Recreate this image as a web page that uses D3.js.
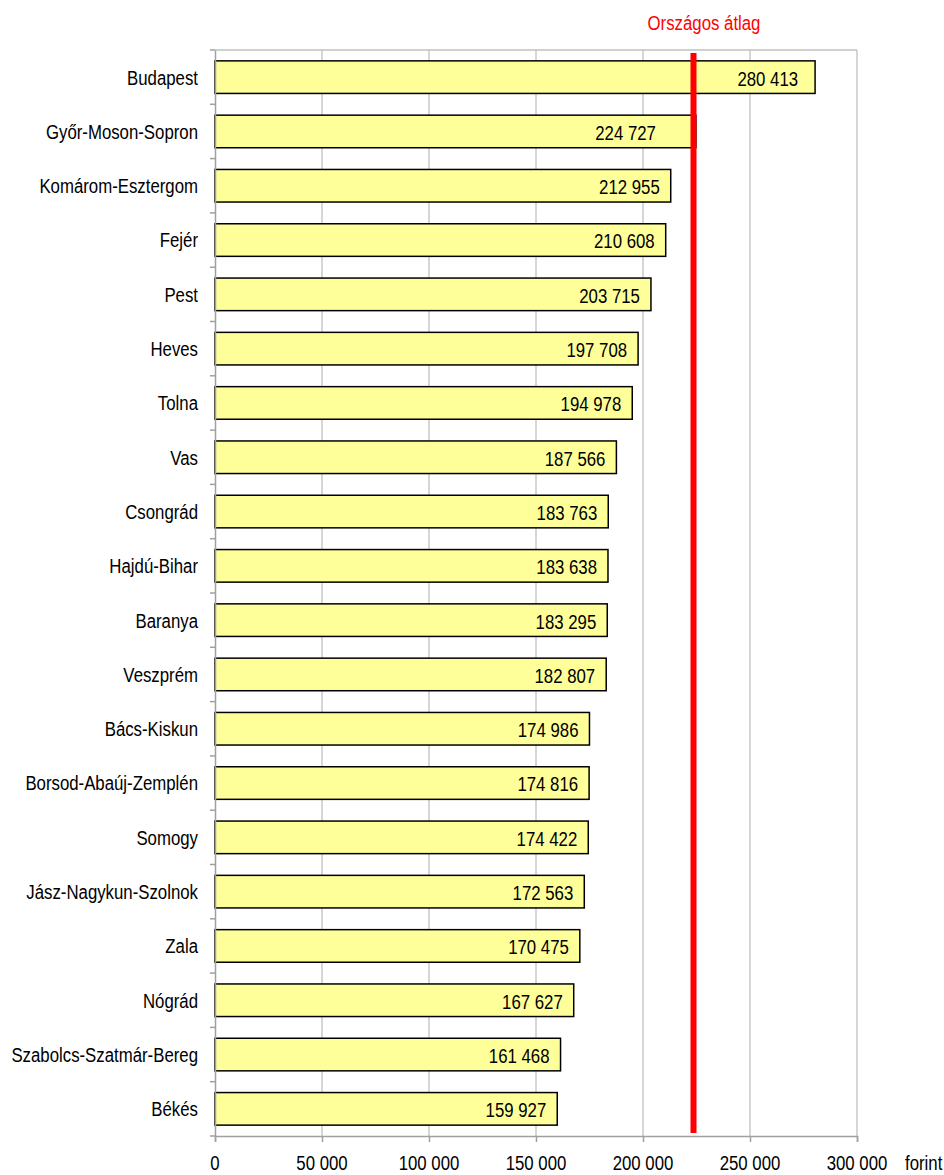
<!DOCTYPE html>
<html><head><meta charset="utf-8">
<script src="https://cdn.jsdelivr.net/npm/d3@7"></script>
<style>body{margin:0;background:#fff}svg{display:block}</style>
</head><body>
<script>
const categories = ["Budapest","Győr-Moson-Sopron","Komárom-Esztergom","Fejér ","Pest","Heves","Tolna","Vas","Csongrád","Hajdú-Bihar","Baranya","Veszprém","Bács-Kiskun","Borsod-Abaúj-Zemplén","Somogy","Jász-Nagykun-Szolnok","Zala","Nógrád","Szabolcs-Szatmár-Bereg","Békés"];
const values = [280413,224727,212955,210608,203715,197708,194978,187566,183763,183638,183295,182807,174986,174816,174422,172563,170475,167627,161468,159927];
const average = 223600;
const averageLabel = "Országos átlag";
const xTicks = [0,50000,100000,150000,200000,250000,300000];
const unitLabel = "forint";

const W = 944, H = 1175;
const font = "'Liberation Sans',Arial,sans-serif";
const FS = 21, SX = 0.8;
const svg = d3.select("body").append("svg").attr("width", W).attr("height", H)
  .style("font-family", font);

const m = {left: 215, right: 87, top: 50, bottom: 39};
const x = d3.scaleLinear().domain([0, 300000]).range([m.left, W - m.right]);
const y = d3.scaleBand().domain(categories).range([m.top, H - m.bottom]).paddingInner(0.4).paddingOuter(0.2);
const fmt = v => d3.format(",")(v).replace(/,/g, " ");
// label shift from bar end (style, not data)
const labelGap = (i) => i === 0 ? 17 : (i === 1 ? 40 : 11);

function narrow(sel, fx, fy) {
  return sel.attr("transform", (d, i) => `translate(${fx(d, i)},${fy(d, i)}) scale(${SX},1)`)
    .attr("dy", "0.35em").attr("font-size", FS).attr("font-family", font);
}

// gridlines
svg.append("g").selectAll("line").data(xTicks.slice(1)).join("line")
  .attr("x1", d => x(d)).attr("x2", d => x(d))
  .attr("y1", m.top).attr("y2", H - m.bottom)
  .attr("stroke", "#c0c0c0").attr("stroke-width", 1.3);
svg.append("line").attr("x1", m.left).attr("x2", x(300000)).attr("y1", m.top).attr("y2", m.top)
  .attr("stroke", "#c0c0c0").attr("stroke-width", 1.3);

// bars
svg.append("g").selectAll("rect").data(values).join("rect")
  .attr("x", x(0)).attr("y", (d, i) => y(categories[i]))
  .attr("width", d => x(d) - x(0)).attr("height", y.bandwidth())
  .attr("fill", "#ffff99").attr("stroke", "#000").attr("stroke-width", 1.5);

// value labels
narrow(svg.append("g").selectAll("text").data(values).join("text"),
  (d, i) => x(d) - labelGap(i), (d, i) => y(categories[i]) + y.bandwidth() / 2 + 1)
  .attr("text-anchor", "end").attr("fill", "#000").text(d => fmt(d));

// x axis
const xAxis = svg.append("g").attr("transform", `translate(0,${H - m.bottom})`)
  .call(d3.axisBottom(x).tickValues(xTicks).tickSize(6).tickFormat(""));
xAxis.select(".domain").attr("stroke", "#a0a0a0").attr("stroke-width", 1.5);
xAxis.selectAll(".tick line").attr("stroke", "#a0a0a0").attr("stroke-width", 1.5);
xAxis.selectAll("text").remove();
narrow(svg.append("g").selectAll("text").data(xTicks).join("text"),
  d => x(d), () => H - m.bottom + 27)
  .attr("text-anchor", "middle").attr("fill", "#000").text(d => fmt(d));

// y axis
const yAxis = svg.append("g").attr("transform", `translate(${m.left},0)`)
  .call(d3.axisLeft(y).tickSize(0).tickFormat(""));
yAxis.select(".domain").attr("stroke", "#a0a0a0").attr("stroke-width", 1.5);
yAxis.selectAll("text").remove();
narrow(svg.append("g").selectAll("text").data(categories).join("text"),
  () => 198, d => y(d) + y.bandwidth() / 2)
  .attr("text-anchor", "end").attr("fill", "#000").text(d => d);
const bounds = categories.map(c => y(c) - y.step() * 0.2).concat([H - m.bottom]);
svg.append("g").selectAll("line").data(bounds).join("line")
  .attr("x1", m.left - 5).attr("x2", m.left).attr("y1", d => d).attr("y2", d => d)
  .attr("stroke", "#a0a0a0").attr("stroke-width", 1.5);

// average line
svg.append("line").attr("x1", x(average)).attr("x2", x(average))
  .attr("y1", m.top + 3).attr("y2", H - m.bottom - 3)
  .attr("stroke", "#ff0000").attr("stroke-width", 6);
narrow(svg.append("g").selectAll("text").data([averageLabel]).join("text"),
  () => 704, () => 23)
  .attr("text-anchor", "middle").attr("fill", "#ff0000").text(d => d);

// unit
narrow(svg.append("g").selectAll("text").data([unitLabel]).join("text"),
  () => 905, () => H - m.bottom + 27)
  .attr("text-anchor", "start").attr("fill", "#000").text(d => d);
</script>
</body></html>
